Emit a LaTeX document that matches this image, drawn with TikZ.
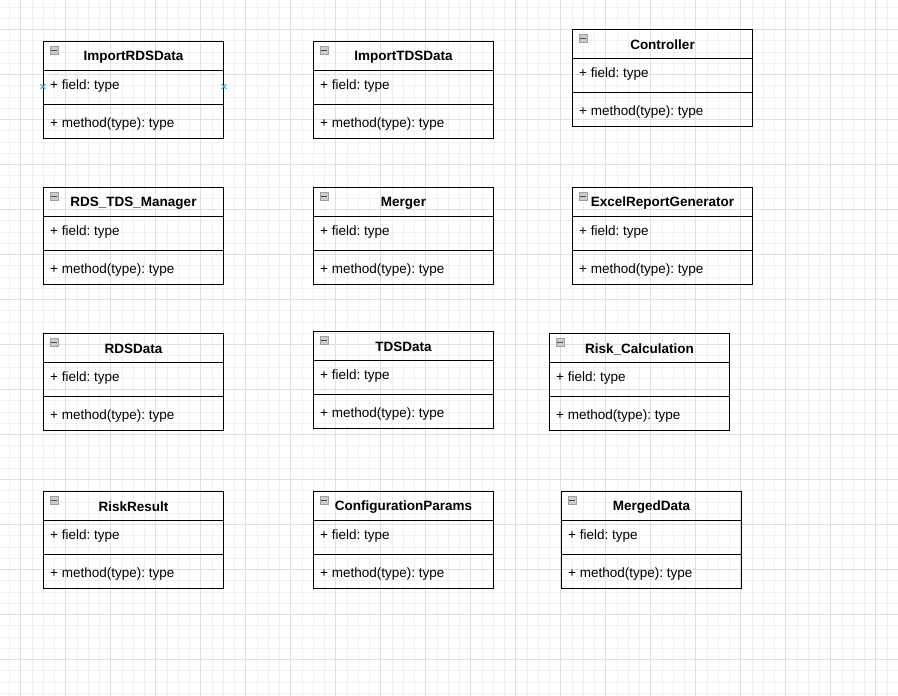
\documentclass[tikz,border=0pt]{standalone}
\usepackage{fontspec}
\setmainfont{Liberation Sans}
\usetikzlibrary{shapes.misc}
\frenchspacing

\definecolor{selblue}{RGB}{41,170,235}
\tikzset{
    minorgrid/.style={draw=gray!12, line width=0.6pt},
    majorgrid/.style={draw=gray!25, line width=0.6pt},
    classbox/.style={draw, line width=1pt, minimum width=180pt, minimum height=97pt, inner sep=0pt},
    classline/.style={line width=1pt},
    classtitle/.style={font=\fontsize{13.5}{16}\selectfont\bfseries, inner sep=0pt},
    classrow/.style={font=\fontsize{13.5}{16}\selectfont, anchor=west, inner sep=0pt},
    foldicon/.style={draw=gray!75, fill=gray!40, minimum size=8pt, inner sep=0pt, line width=0.6pt},
    selmark/.style={cross out, draw=selblue, minimum size=4pt, inner sep=0pt, line width=0.8pt}
}

\begin{document}
\begin{tikzpicture}[x=1pt, y=-1pt]
        \fill[white] (0,0) rectangle (898,696);
        \useasboundingbox (0,0) rectangle (898,696);
        % background grid
        \foreach \i in {0,...,78} \draw[minorgrid] (9.45+11.25*\i,0) -- (9.45+11.25*\i,696);
        \foreach \j in {0,...,61} \draw[minorgrid] (0,6.8+11.25*\j) -- (898,6.8+11.25*\j);
        \foreach \i in {0,...,19} \draw[majorgrid] (20.7+45*\i,0) -- (20.7+45*\i,696);
        \foreach \j in {0,...,14} \draw[majorgrid] (0,29.3+45*\j) -- (898,29.3+45*\j);
        % classes
        \foreach \nm/\lx/\ty/\ttl in {irds/43/41/ImportRDSData, itds/313/41/ImportTDSData,
                ctrl/572/29/Controller, mgr/43/187/RDS\_TDS\_Manager, merger/313/187/Merger,
                excel/572/187/ExcelReportGenerator, rds/43/333/RDSData, tds/313/331/TDSData,
                risk/549/333/Risk\_Calculation, result/43/491/RiskResult,
                config/313/491/ConfigurationParams, merged/561/491/MergedData} {
            \node[classbox, anchor=north west] (\nm) at (\lx,\ty) {};
            \node[classtitle] (\nm-title) at ([yshift=-16pt]\nm.north) {\ttl};
            \node[classrow] (\nm-field) at ([xshift=7pt,yshift=-45.5pt]\nm.north west) {+ field: type};
            \node[classrow] (\nm-method) at ([xshift=7pt,yshift=-83.5pt]\nm.north west) {+ method(type): type};
            \draw[classline] ([yshift=-29pt]\nm.north west) -- ([yshift=-29pt]\nm.north east);
            \draw[classline] ([yshift=-63pt]\nm.north west) -- ([yshift=-63pt]\nm.north east);
            \node[foldicon] (\nm-icon) at ([xshift=11pt,yshift=-9.5pt]\nm.north west) {};
            \draw[line width=1.2pt, black!70] ([xshift=1.5pt]\nm-icon.west) -- ([xshift=-1.5pt]\nm-icon.east);
        }
        % selection marks
        \node[selmark] (selL) at (irds.west |- irds-field) {};
        \node[selmark] (selR) at (irds.east |- irds-field) {};
    \end{tikzpicture}
\end{document}
